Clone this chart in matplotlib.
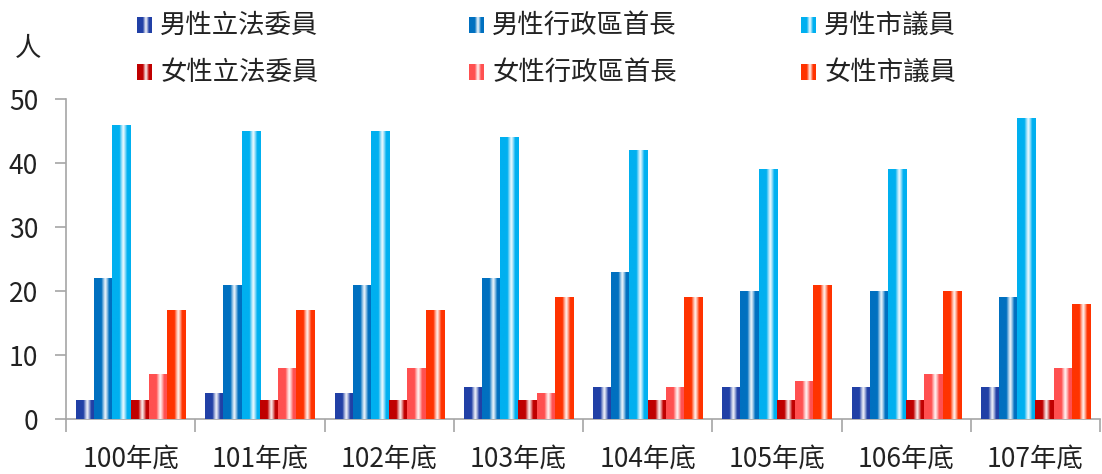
import numpy as np
import matplotlib
matplotlib.use("Agg")
import matplotlib.pyplot as plt
from matplotlib.colors import to_rgb

plt.rcParams['font.family'] = ['Noto Sans CJK TC', 'DejaVu Sans']

categories = ['100年底', '101年底', '102年底', '103年底', '104年底', '105年底', '106年底', '107年底']
series_names = ['男性立法委員', '男性行政區首長', '男性市議員', '女性立法委員', '女性行政區首長', '女性市議員']
male_legislators = [3, 4, 4, 5, 5, 5, 5, 5]
male_district_heads = [22, 21, 21, 22, 23, 20, 20, 19]
male_councillors = [46, 45, 45, 44, 42, 39, 39, 47]
female_legislators = [3, 3, 3, 3, 3, 3, 3, 3]
female_district_heads = [7, 8, 8, 4, 5, 6, 7, 8]
female_councillors = [17, 17, 17, 19, 19, 21, 20, 18]
y_ticks = [0, 10, 20, 30, 40, 50]
y_unit = '人'

series = [male_legislators, male_district_heads, male_councillors,
          female_legislators, female_district_heads, female_councillors]
colors = ['#2140A6', '#0070C0', '#00B0F0', '#C00000', '#FF5050', '#FF3300']


def gradient_img(color, n=64):
    t = np.linspace(0, 1, n)
    w = np.clip(1 - np.abs(t - 0.6) / 0.2, 0, 1) ** 0.8 * 0.95
    base = np.array(to_rgb(color))
    img = base[None, :] * (1 - w[:, None]) + w[:, None]
    return img[None, :, :]


W, H = 1102, 474
FS = 19
fig = plt.figure(figsize=(W / 100, H / 100), dpi=100)
ax = fig.add_axes([66 / W, 55 / H, (1100 - 66) / W, (419 - 99) / H])

n = len(categories)
x = np.arange(n)
group_w = 0.845
bw = group_w / len(series)
for i, (vals, c) in enumerate(zip(series, colors)):
    pos = x - group_w / 2 + bw * (i + 0.5)
    bars = ax.bar(pos, vals, width=bw, color=c, linewidth=0, zorder=2)
    img = gradient_img(c)
    for b in bars:
        x0, y0 = b.get_x(), b.get_y()
        im = ax.imshow(img, extent=(x0, x0 + b.get_width(), y0, y0 + b.get_height()),
                       aspect='auto', interpolation='bilinear', zorder=3)
        im.set_clip_path(b)

ax.set_xlim(-0.5, n - 0.5)
ax.set_ylim(0, 50)
for s in ['top', 'right']:
    ax.spines[s].set_visible(False)
for s in ['left', 'bottom']:
    ax.spines[s].set_color('#A6A6A6')
    ax.spines[s].set_linewidth(1.2)

ax.set_yticks(y_ticks)
ax.set_yticklabels([str(v) for v in y_ticks], fontsize=FS, color='#222222')
ax.tick_params(axis='y', length=8, width=1.2, color='#A6A6A6', pad=12)

ax.set_xticks(np.arange(n + 1) - 0.5)
ax.set_xticklabels([])
ax.tick_params(axis='x', which='major', length=9, width=1.2, color='#A6A6A6')
ax.set_xticks(x, minor=True)
ax.set_xticklabels(categories, minor=True, fontsize=FS, color='#222222')
ax.tick_params(axis='x', which='minor', length=0, pad=19)

fig.text(28 / W, 1 - 48 / H, y_unit, fontsize=FS, ha='center', va='center', color='#222222')

# legend
leg_x = [137, 469, 801]
leg_y = [25, 72]
for i, (name, c) in enumerate(zip(series_names, colors)):
    col = i % 3
    row = i // 3
    mx, my = leg_x[col], leg_y[row]
    lax = fig.add_axes([mx / W, 1 - (my + 8) / H, 15 / W, 16 / H])
    lax.imshow(gradient_img(c), aspect='auto', interpolation='bilinear')
    lax.axis('off')
    fig.text((mx + 23) / W, 1 - my / H, name, fontsize=FS, ha='left', va='center', color='#222222')

fig.savefig('out.png', dpi=100)
